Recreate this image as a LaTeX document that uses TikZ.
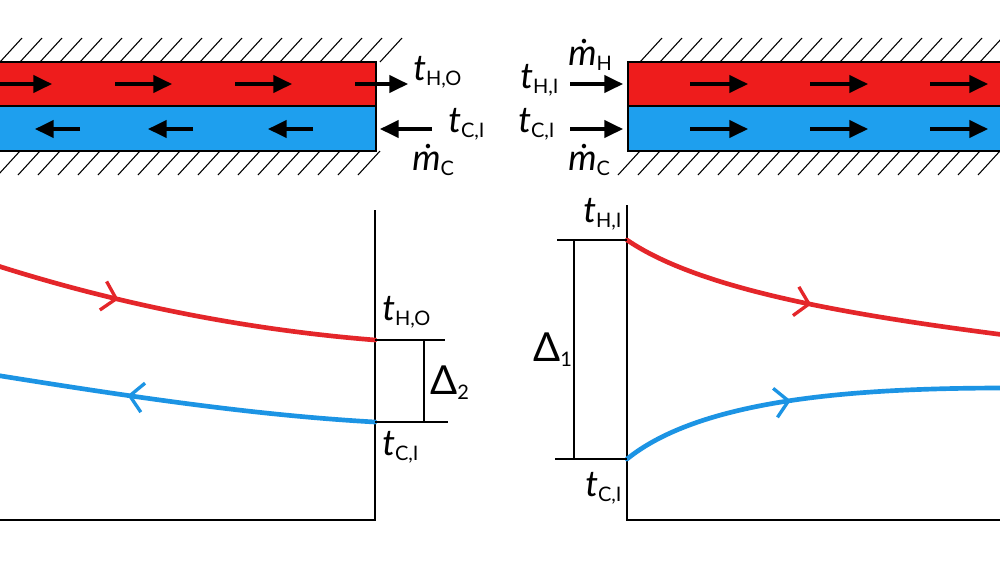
\documentclass[tikz,border=0pt]{standalone}
\usepackage{fontspec}
\setmainfont{Lato}
\usetikzlibrary{arrows.meta,decorations.markings}
\definecolor{hred}{HTML}{EE1C1C}
\definecolor{cblue}{HTML}{1E9FEE}
\definecolor{lred}{HTML}{E4262A}
\definecolor{lblue}{HTML}{1C94E4}
\tikzset{
 lbl/.style={font=\fontsize{27}{27}\selectfont\itshape, inner sep=0pt},
 flow/.style={-{Triangle[length=14pt,width=13pt]}, line width=2.4pt},
 ax/.style={line width=1.8pt},
 hatch/.style={line width=0.8pt},
 curve/.style={line width=3.5pt, line cap=round},
 fmark/.style={postaction={decorate,decoration={markings,mark=at position #1 with {\arrow[line width=2.5pt]{Straight Barb[length=10pt,width=22pt]}}}}},
 fmarkb/.style={postaction={decorate,decoration={markings,mark=at position #1 with {\arrowreversed[line width=2.5pt]{Straight Barb[length=10pt,width=22pt]}}}}}
}
\newcommand{\tsub}[2]{#1\textsubscript{\fontsize{15}{15}\selectfont\upshape #2}}
\newcommand{\mdot}{\.{m}}
\begin{document}
\begin{tikzpicture}[x=0.75pt,y=-0.75pt]
\useasboundingbox (0,0) rectangle (1000,562);
\fill[white] (0,0) rectangle (1000,562);
% hatching
\foreach \x in {0,20,...,380} {\draw[hatch] (\x,62) -- (\x+22,38); \draw[hatch] (\x-22,175) -- (\x,151);}
\foreach \x in {640,660,...,1000} {\draw[hatch] (\x,62) -- (\x+22,38); \draw[hatch] (\x-22,175) -- (\x,151);}
\filldraw[fill=hred,line width=1.8pt] (-5,62) rectangle (376,106);
\filldraw[fill=cblue,line width=1.8pt] (-5,106) rectangle (376,151);
\filldraw[fill=hred,line width=1.8pt] (628,62) rectangle (1005,106);
\filldraw[fill=cblue,line width=1.8pt] (628,106) rectangle (1005,151);
\foreach \x in {0,120,240} \draw[flow] (\x-5,84) -- (\x+52,84);
\foreach \x in {35,148,268} \draw[flow] (\x+45,129) -- (\x,129);
\foreach \x in {690,810,930} {\draw[flow] (\x,84) -- (\x+58,84); \draw[flow] (\x,129) -- (\x+58,129);}
\coordinate (ho1) at (355,84); \coordinate (ho2) at (408,84);
\draw[flow] (ho1) -- (ho2);
\coordinate (ci1) at (432,129); \coordinate (ci2) at (380,129);
\draw[flow] (ci1) -- (ci2);
\coordinate (hi1) at (570,84); \coordinate (hi2) at (623,84);
\draw[flow] (hi1) -- (hi2);
\coordinate (ri1) at (570,129); \coordinate (ri2) at (623,129);
\draw[flow] (ri1) -- (ri2);
\node[lbl,anchor=west] (tHO) at (413,72) {\tsub{t}{H,O}};
\node[lbl,anchor=west] (tCI) at (448,124) {\tsub{t}{C,I}};
\node[lbl,anchor=west] (mC) at (412,160) {\tsub{\mdot}{C}};
\node[lbl,anchor=west] (mH) at (568,55) {\tsub{\mdot}{H}};
\node[lbl,anchor=west] (tHI) at (520,80) {\tsub{t}{H,I}};
\node[lbl,anchor=west] (tCI2) at (518,124) {\tsub{t}{C,I}};
\node[lbl,anchor=west] (mC2) at (568,160) {\tsub{\mdot}{C}};
% left plot
\draw[ax] (375,210) -- (375,520) -- (-5,520);
\draw[curve,lred,fmark=0.33] (-5,265) .. controls (120,305) and (250,330) .. (375,340);
\draw[curve,lblue,fmarkb=0.35] (-5,375) .. controls (120,395) and (250,415) .. (375,422);
\draw[ax] (375,340) -- (445,340);
\draw[ax] (375,422) -- (448,422);
\draw[ax] (424,340) -- (424,422);
\node[lbl,anchor=west] (tHOb) at (382,312) {\tsub{t}{H,O}};
\node[lbl,anchor=west] (tCIb) at (382,447) {\tsub{t}{C,I}};
\node[lbl,font=\fontsize{30}{30}\selectfont,anchor=west] (D2) at (430,383) {\tsub{Δ}{2}};
% right plot
\draw[ax] (627,205) -- (627,520) -- (1005,520);
\draw[curve,lred,fmark=0.5] (627,240) .. controls (700,290) and (850,315) .. (1005,335);
\draw[curve,lblue,fmark=0.45] (627,459) .. controls (700,400) and (850,388) .. (1005,388);
\draw[ax] (557,240) -- (627,240);
\draw[ax] (555,459) -- (627,459);
\draw[ax] (574,240) -- (574,459);
\node[lbl,anchor=west] (tHIb) at (583,214) {\tsub{t}{H,I}};
\node[lbl,anchor=west] (tCIc) at (585,488) {\tsub{t}{C,I}};
\node[lbl,font=\fontsize{30}{30}\selectfont,anchor=west] (D1) at (533,350) {\tsub{Δ}{1}};
\end{tikzpicture}
\end{document}
